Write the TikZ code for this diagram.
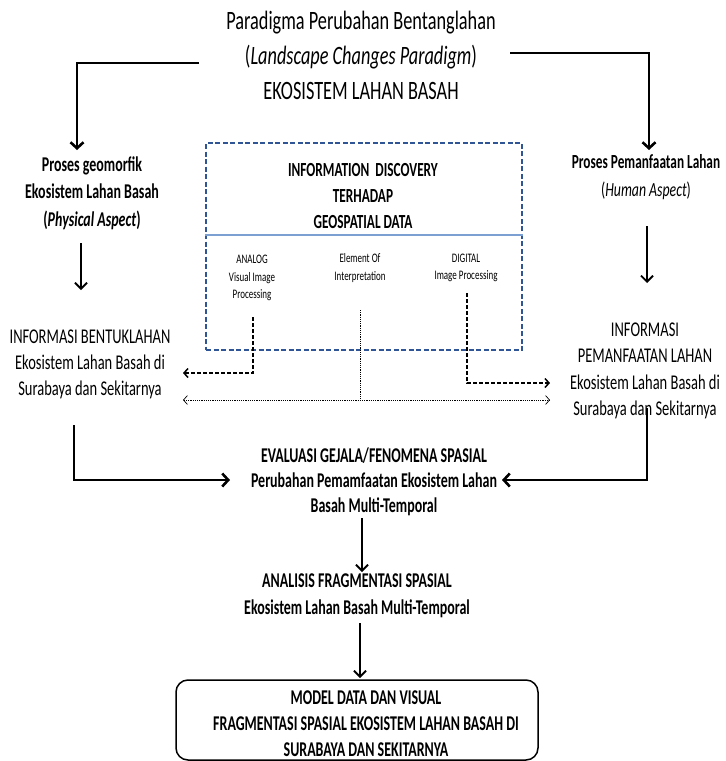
\documentclass[tikz,border=0pt]{standalone}
\usepackage{fontspec}
\setmainfont{Carlito}[FakeStretch=0.69, BoldFeatures={FakeStretch=0.665}, BoldItalicFeatures={FakeStretch=0.665}]
\usetikzlibrary{arrows.meta}
\definecolor{boxblue}{RGB}{47,85,151}
\definecolor{divblue}{RGB}{125,160,210}
\begin{document}
\begin{tikzpicture}[x=1pt,y=-1pt,
  every node/.style={inner sep=0pt, align=center},
  ttl/.style={font=\fontsize{26.5}{35}\selectfont},
  txt/.style={font=\fontsize{21}{26}\selectfont},
  btxt/.style={font=\fontsize{21}{27.5}\selectfont\bfseries},
  small/.style={font=\fontsize{13}{17.5}\selectfont},
  arrA/.style={line width=2.6pt, -{Straight Barb[length=6pt,width=13pt]}},
  arrB/.style={line width=1.8pt, -{Straight Barb[length=6pt,width=12pt]}},
  dsh/.style={line width=1.5pt, dash pattern=on 4pt off 2pt, -{Straight Barb[length=4pt,width=9pt]}},
  dtt/.style={line width=0.7pt, dash pattern=on 1.2pt off 1pt},
  dttarr/.style={dtt, {Straight Barb[length=4pt,width=9pt]}-{Straight Barb[length=4pt,width=9pt]}}
]
\useasboundingbox (0,0) rectangle (726,761);

% texts
\node[ttl] (title) at (361,55) {Paradigma Perubahan Bentanglahan\\(\textit{Landscape Changes Paradigm})\\EKOSISTEM LAHAN BASAH};
\node[btxt] (phys) at (92,193) {Proses geomorfik\\Ekosistem Lahan Basah\\(\textit{Physical Aspect})};
\node[txt, font=\fontsize{20}{28}\selectfont] (human) at (646,177) {\textbf{Proses Pemanfaatan Lahan}\\(\textit{Human Aspect})};
\node[txt] (infoB) at (90,364) {INFORMASI BENTUKLAHAN\\Ekosistem Lahan Basah di\\Surabaya dan Sekitarnya};
\node[txt, font=\fontsize{21}{26.3}\selectfont] (infoP) at (645,371) {INFORMASI\\PEMANFAATAN LAHAN\\Ekosistem Lahan Basah di\\Surabaya dan Sekitarnya};

% information discovery box
\node[draw=boxblue, line width=1.2pt, dash pattern=on 5pt off 2.5pt, minimum width=316pt, minimum height=207pt] (box) at (364,246.5) {};
\draw[divblue, line width=1.2pt] (box.west |- 0,235) -- (box.east |- 0,235);
\node[btxt, font=\fontsize{20}{26}\selectfont\bfseries] (boxt) at (363,196) {INFORMATION\ \ DISCOVERY\\TERHADAP\\GEOSPATIAL DATA};
\node[small] (analog) at (252,278) {ANALOG\\Visual Image\\Processing};
\node[small] (elem) at (360,268) {Element Of\\Interpretation};
\node[small] (digit) at (466,268) {DIGITAL\\Image Processing};

\node[btxt, font=\fontsize{21}{25}\selectfont\bfseries] (eval) at (374,482) {EVALUASI GEJALA/FENOMENA SPASIAL\\Perubahan Pemamfaatan Ekosistem Lahan\\Basah Multi-Temporal};
\node[btxt, font=\fontsize{21}{27}\selectfont\bfseries] (anal) at (357,596) {ANALISIS FRAGMENTASI SPASIAL\\Ekosistem Lahan Basah Multi-Temporal};
\node[draw, line width=1.5pt, rounded corners=12pt, minimum width=362pt, minimum height=80pt] (model) at (357,720) {};
\node[btxt, font=\fontsize{21}{26}\selectfont\bfseries] (modelt) at (366,724) {MODEL DATA DAN VISUAL\\FRAGMENTASI SPASIAL EKOSISTEM LAHAN BASAH DI\\SURABAYA DAN SEKITARNYA};

% helper coordinates
\coordinate (tl) at (199,63);
\coordinate (tlE) at (77,150);
\coordinate (tr) at (510,53);
\coordinate (trE) at (649,150);
\coordinate (p1) at (81,243);
\coordinate (p2) at (81,290);
\coordinate (h1) at (647,226);
\coordinate (h2) at (647,283);
\coordinate (b1) at (74,425);
\coordinate (b2) at (230,480);
\coordinate (m1) at (647,408);
\coordinate (m2) at (502,480);
\coordinate (e1) at (362,518);
\coordinate (e2) at (362,572);
\coordinate (a1) at (360,623);
\coordinate (a2) at (360,678);
\coordinate (an1) at (253,317);
\coordinate (an2) at (183,373);
\coordinate (dg1) at (467,293);
\coordinate (dg2) at (550,383);
\coordinate (el1) at (360,310);
\coordinate (el2) at (360,400);
\coordinate (dl) at (183,400);
\coordinate (dr) at (550,400);

% connectors
\draw[arrA] (tl) -| (tlE);
\draw[arrA] (tr) -| (trE);
\draw[arrB] (p1) -- (p2);
\draw[arrB] (h1) -- (h2);
\draw[arrA] (b1) |- (b2);
\draw[arrA] (m1) |- (m2);
\draw[arrB] (e1) -- (e2);
\draw[arrB] (a1) -- (a2);
\draw[dsh] (an1) |- (an2);
\draw[dsh] (dg1) |- (dg2);
\draw[dtt] (el1) -- (el2);
\draw[dttarr] (dl) -- (dr);
\end{tikzpicture}
\end{document}
